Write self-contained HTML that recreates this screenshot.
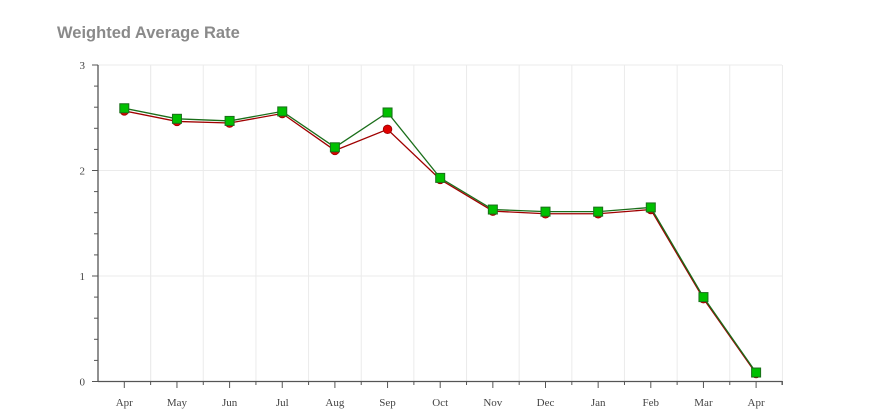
<!DOCTYPE html>
<html><head><meta charset="utf-8"><style>
html,body{margin:0;padding:0;background:#fff;width:874px;height:417px;overflow:hidden}
svg{display:block}
</style></head><body>
<svg id="s" width="874" height="417" xmlns="http://www.w3.org/2000/svg">
<text x="57" y="38" font-family="Liberation Sans, sans-serif" font-size="16.5" font-weight="bold" fill="#8a8a8a">Weighted Average Rate</text>
<g id="g"></g>
</svg>
<script>
const g=document.getElementById('g');
const x0=124.3,dx=52.65,Y=v=>381.5-v*105.5;
const months=['Apr','May','Jun','Jul','Aug','Sep','Oct','Nov','Dec','Jan','Feb','Mar','Apr'];
const green=[2.59,2.49,2.47,2.56,2.22,2.55,1.93,1.63,1.61,1.61,1.65,0.80,0.085];
const red=[2.565,2.465,2.45,2.54,2.19,2.39,1.915,1.615,1.59,1.59,1.63,0.785,0.075];
let h='';
for(let i=0;i<13;i++){const x=x0-dx/2+dx*i+dx;if(x<=783)h+=`<line x1="${x}" y1="65" x2="${x}" y2="381" stroke="#ebebeb"/>`;}
h+=`<line x1="${x0+dx/2}" y1="65" x2="${x0+dx/2}" y2="381" stroke="#ebebeb"/>`;
for(let v=1;v<=3;v++)h+=`<line x1="98" y1="${Y(v)}" x2="782" y2="${Y(v)}" stroke="#ebebeb"/>`;
h+=`<line x1="98" y1="65" x2="98" y2="382" stroke="#555" stroke-width="1.3"/>`;
h+=`<line x1="98" y1="381.5" x2="782" y2="381.5" stroke="#555" stroke-width="1.3"/>`;
for(let k=0;k<=15;k++){const v=k*0.2,y=Y(v),maj=k%5==0;h+=`<line x1="${maj?92:94}" y1="${y}" x2="98" y2="${y}" stroke="#555"/>`;
 if(maj)h+=`<text x="85" y="${y+4}" font-family="Liberation Serif, serif" font-size="11" fill="#444" text-anchor="end">${v.toFixed(0)}</text>`;}
for(let i=0;i<13;i++){const x=x0+dx*i;h+=`<line x1="${x}" y1="381" x2="${x}" y2="388" stroke="#555"/>`;
 const xm=x+dx/2;if(xm<=783)h+=`<line x1="${xm}" y1="381" x2="${xm}" y2="385" stroke="#555"/>`;
 h+=`<text x="${x}" y="406" font-family="Liberation Serif, serif" font-size="11" fill="#444" text-anchor="middle">${months[i]}</text>`;}
h+=`<line x1="782" y1="381" x2="782" y2="385" stroke="#555"/>`;
const pts=a=>a.map((v,i)=>(x0+dx*i)+','+Y(v)).join(' ');
h+=`<polyline points="${pts(red)}" fill="none" stroke="#a00000" stroke-width="1.3"/>`;
red.forEach((v,i)=>h+=`<circle cx="${x0+dx*i}" cy="${Y(v)}" r="4.3" fill="#e00000" stroke="#900" stroke-width="0.8"/>`);
h+=`<polyline points="${pts(green)}" fill="none" stroke="#1a6e1a" stroke-width="1.3"/>`;
green.forEach((v,i)=>h+=`<rect x="${x0+dx*i-4.5}" y="${Y(v)-4.5}" width="9" height="9" fill="#00c000" stroke="#1a6e1a" stroke-width="1"/>`);
g.innerHTML=h;
</script>
</body></html>
